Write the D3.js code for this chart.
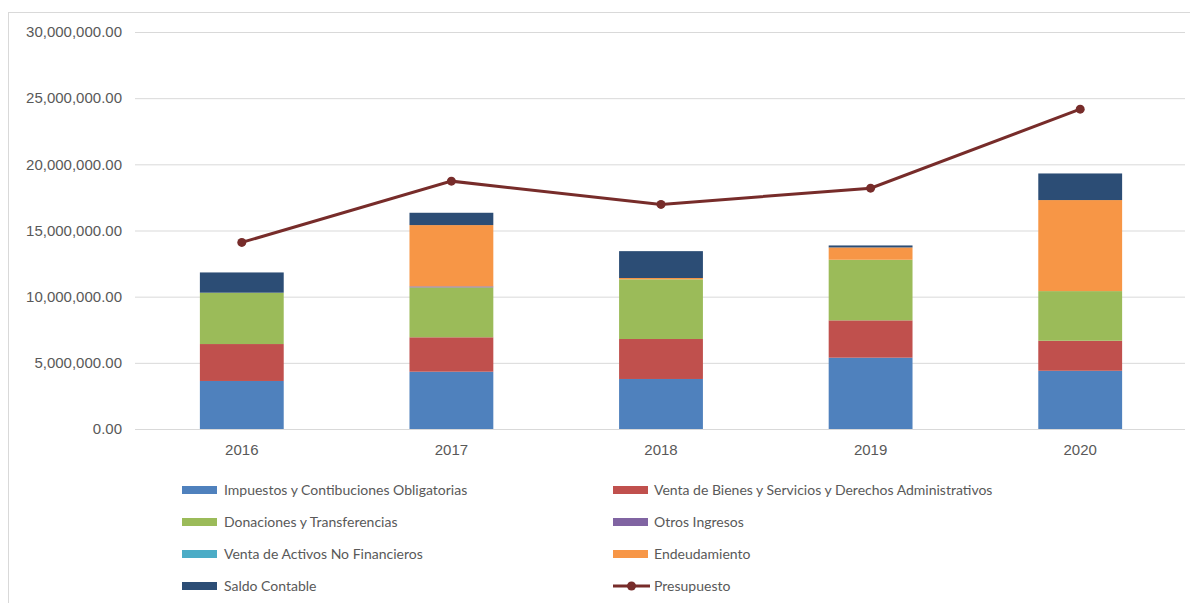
<!DOCTYPE html>
<html>
<head>
<meta charset="utf-8">
<script src="https://cdn.jsdelivr.net/npm/d3@7"></script>
<style>
  body { margin: 0; background: #fff; }
  svg { display: block; font-family: Lato, "Open Sans", sans-serif; }
</style>
</head>
<body>
<svg id="chart" width="1190" height="603"></svg>
<script>
const years = ["2016", "2017", "2018", "2019", "2020"];
const impuestos = [3630000, 4330000, 3780000, 5390000, 4400000];
const ventaBienes = [2790000, 2600000, 3020000, 2820000, 2270000];
const donaciones = [3880000, 3770000, 4510000, 4580000, 3750000];
const otrosIngresos = [0, 80000, 0, 0, 0];
const ventaActivos = [0, 0, 0, 0, 0];
const endeudamiento = [0, 4630000, 100000, 930000, 6880000];
const saldoContable = [1530000, 930000, 2030000, 150000, 2010000];
const presupuesto = [14100000, 18730000, 16970000, 18200000, 24170000];
const yTicks = [0, 5000000, 10000000, 15000000, 20000000, 25000000, 30000000];

const series = [
  { name: "Impuestos y Contibuciones Obligatorias", values: impuestos, color: "#4F81BD" },
  { name: "Venta de Bienes y Servicios y Derechos Administrativos", values: ventaBienes, color: "#C0504D" },
  { name: "Donaciones y Transferencias", values: donaciones, color: "#9BBB59" },
  { name: "Otros Ingresos", values: otrosIngresos, color: "#8064A2" },
  { name: "Venta de Activos No Financieros", values: ventaActivos, color: "#4BACC6" },
  { name: "Endeudamiento", values: endeudamiento, color: "#F79646" },
  { name: "Saldo Contable", values: saldoContable, color: "#2C4D75" }
];
const lineColor = "#772C2A";

const svg = d3.select("#chart");
const margin = { left: 137, right: 5 };
const width = 1190;

// marco
svg.append("rect")
  .attr("x", 8.5).attr("y", 12.5)
  .attr("width", 1190).attr("height", 600)
  .attr("fill", "none").attr("stroke", "#d9d9d9");

const x = d3.scaleBand().domain(years)
  .range([margin.left, width - margin.right])
  .paddingInner(0.6).paddingOuter(0.3);
const y = d3.scaleLinear().domain([0, 30000000]).range([429, 32]);

const fmt = d3.format(",.2f");

// grid + eje y
const yAxis = svg.append("g")
  .attr("transform", `translate(${margin.left - 2},0)`)
  .call(d3.axisLeft(y).tickValues(yTicks).tickFormat(fmt)
    .tickSize(-(width - margin.right - margin.left + 2)).tickPadding(13));
yAxis.select(".domain").remove();
yAxis.selectAll(".tick line").attr("stroke", "#d9d9d9");
yAxis.selectAll(".tick text").attr("fill", "#595959").style("font-size", "15px");

// barras apiladas
const rows = years.map((yr, i) => {
  const r = { year: yr };
  series.forEach(s => { r[s.name] = s.values[i]; });
  return r;
});
const stacked = d3.stack().keys(series.map(s => s.name))(rows);

svg.append("g").selectAll("g")
  .data(stacked)
  .join("g")
  .attr("fill", (d, i) => series[i].color)
  .selectAll("rect")
  .data(d => d)
  .join("rect")
  .attr("x", d => x(d.data.year))
  .attr("width", x.bandwidth())
  .attr("y", d => y(d[1]))
  .attr("height", d => y(d[0]) - y(d[1]));

// eje x
const xAxis = svg.append("g")
  .attr("transform", "translate(0,429)")
  .call(d3.axisBottom(x).tickSize(0).tickPadding(15));
xAxis.select(".domain").remove();
xAxis.selectAll(".tick text").attr("fill", "#595959").style("font-size", "15px");

// linea presupuesto
const cx = d => x(d.year) + x.bandwidth() / 2;
const pts = years.map((yr, i) => ({ year: yr, v: presupuesto[i] }));
svg.append("path")
  .datum(pts)
  .attr("fill", "none")
  .attr("stroke", lineColor)
  .attr("stroke-width", 3)
  .attr("d", d3.line().x(cx).y(d => y(d.v)));
svg.append("g").selectAll("circle")
  .data(pts)
  .join("circle")
  .attr("cx", cx)
  .attr("cy", d => y(d.v))
  .attr("r", 4.5)
  .attr("fill", lineColor);

// leyenda
const legendItems = series.concat([{ name: "Presupuesto", line: true }]);
const legend = svg.append("g");
legendItems.forEach((it, i) => {
  const col = i % 2, row = Math.floor(i / 2);
  const lx = col === 0 ? 182 : 613;
  const ly = 490 + row * 32;
  const g = legend.append("g").attr("transform", `translate(${lx},${ly})`);
  if (it.line) {
    g.append("line").attr("x1", 0).attr("x2", 37).attr("y1", 0).attr("y2", 0)
      .attr("stroke", lineColor).attr("stroke-width", 3);
    g.append("circle").attr("cx", 18.5).attr("cy", 0).attr("r", 4.5).attr("fill", lineColor);
  } else {
    g.append("rect").attr("x", 0).attr("y", -4).attr("width", 35).attr("height", 8)
      .attr("fill", it.color);
  }
  g.append("text")
    .attr("x", col === 0 ? 42 : 41)
    .attr("y", 0)
    .attr("dy", "0.35em")
    .attr("fill", "#595959")
    .style("font-size", "14px")
    .text(it.name);
});
</script>
</body>
</html>
